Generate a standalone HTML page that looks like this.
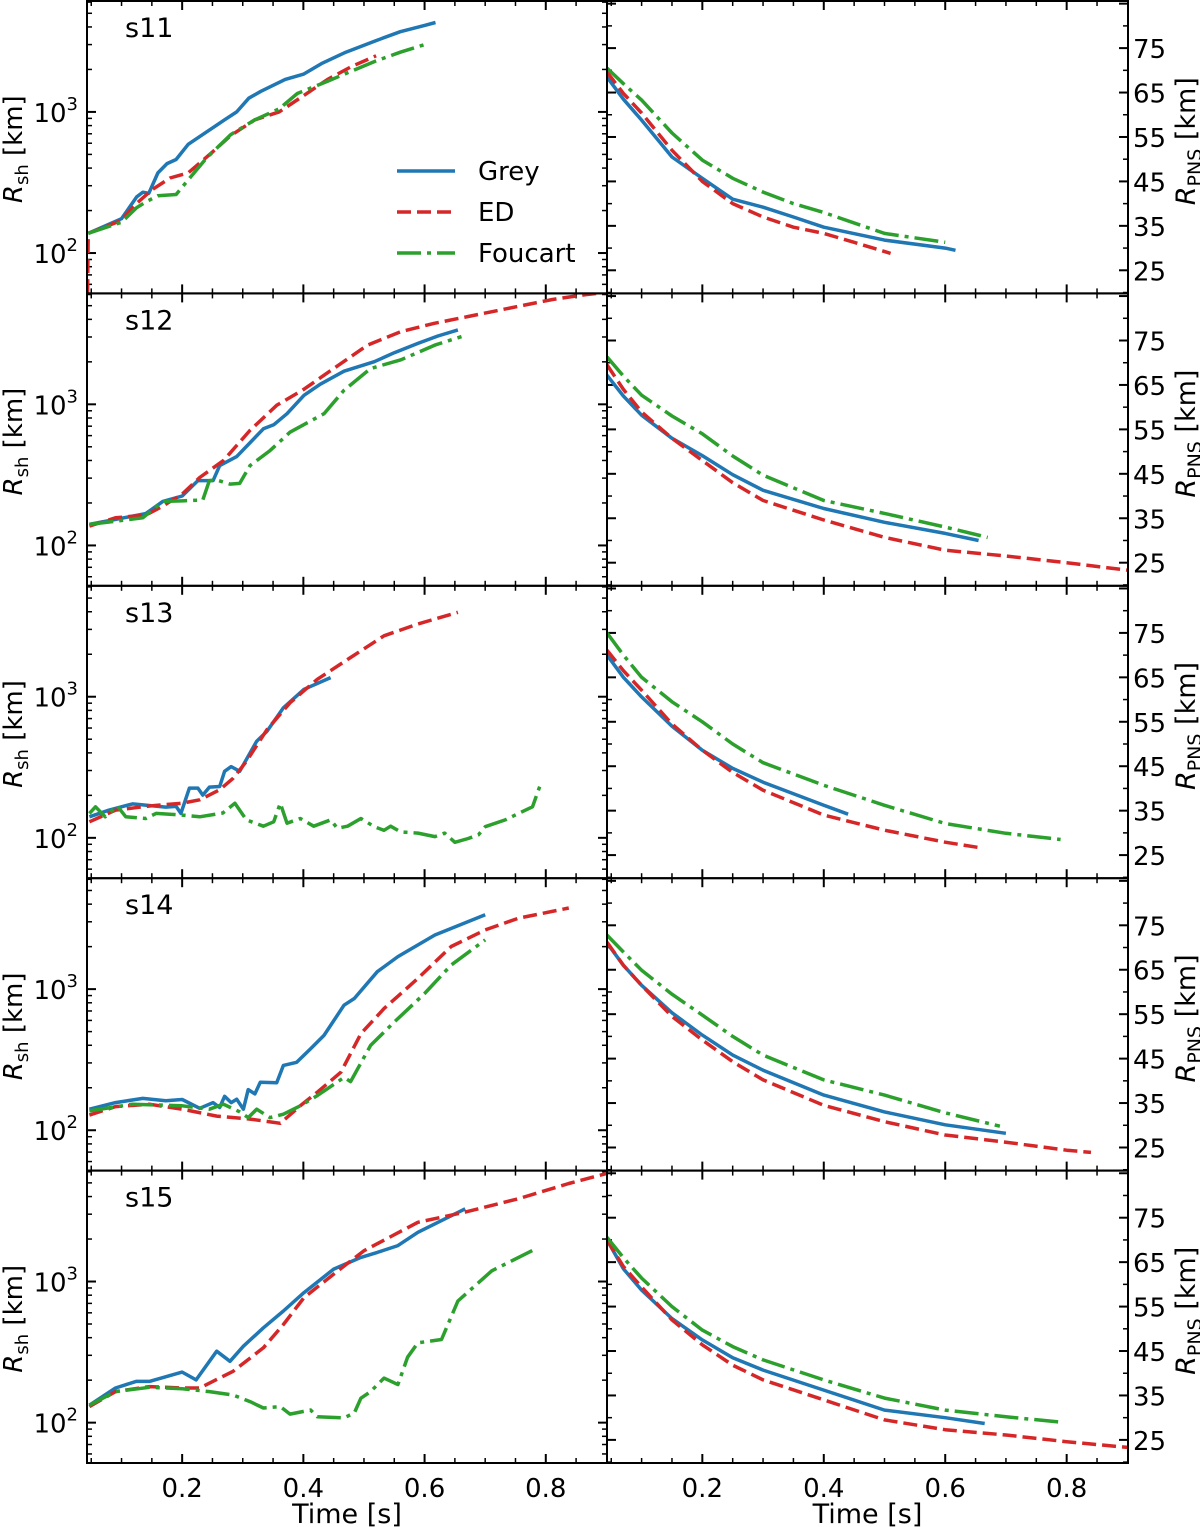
<!DOCTYPE html>
<html><head><meta charset="utf-8">
<style>
html,body{margin:0;padding:0;background:#fff;}
svg{display:block;font-family:"DejaVu Sans","Liberation Sans",sans-serif;}
</style></head>
<body>
<svg id="fig" width="1200" height="1527" viewBox="0 0 1200 1527" xmlns="http://www.w3.org/2000/svg"></svg>
<script>
// ---- data ----
const models = ["s11","s12","s13","s14","s15"];
const seriesNames = ["Grey","ED","Foucart"];
const xTicks = [0.2,0.4,0.6,0.8];
const xTickLabels = ["0.2","0.4","0.6","0.8"];
const rpnsTicks = [25,35,45,55,65,75];

// shock radius [t, Rsh] per model
const shGrey = [
 [[.045,138],[.10,175],[.125,250],[.135,270],[.145,265],[.16,370],[.175,430],[.19,460],[.21,590],[.24,720],[.27,880],[.29,1000],[.31,1250],[.33,1400],[.37,1700],[.40,1850],[.43,2200],[.47,2650],[.52,3200],[.56,3700],[.60,4100],[.618,4300]],
 [[.047,141],[.09,153],[.14,168],[.168,205],[.2,224],[.226,288],[.251,288],[.262,368],[.29,426],[.334,671],[.351,716],[.373,858],[.401,1159],[.428,1388],[.467,1718],[.517,2003],[.55,2321],[.589,2702],[.622,3050],[.655,3366]],
 [[.047,141],[.079,157],[.118,174],[.173,165],[.19,167],[.198,149],[.212,225],[.226,225],[.234,201],[.245,229],[.262,231],[.27,296],[.281,320],[.295,296],[.323,484],[.34,569],[.367,835],[.401,1128],[.445,1366]],
 [[.047,141],[.09,157],[.135,168],[.173,162],[.2,165],[.229,143],[.251,157],[.262,145],[.27,174],[.281,157],[.29,166],[.301,141],[.309,194],[.32,181],[.329,219],[.356,217],[.367,288],[.389,303],[.412,378],[.434,470],[.467,769],[.484,858],[.522,1329],[.556,1700],[.617,2420],[.7,3366]],
 [[.047,133],[.09,176],[.124,196],[.146,196],[.2,228],[.223,201],[.257,321],[.279,272],[.301,348],[.334,470],[.367,618],[.401,835],[.45,1224],[.495,1483],[.522,1609],[.556,1796],[.589,2234],[.667,3276]]
];
const shED = [
 [[.044,52],[.045,138],[.10,170],[.12,215],[.15,280],[.18,340],[.21,370],[.25,520],[.28,680],[.32,880],[.36,1000],[.40,1300],[.44,1700],[.48,2100],[.52,2500]],
 [[.047,137],[.09,157],[.14,164],[.168,190],[.2,231],[.229,303],[.268,399],[.312,653],[.356,984],[.401,1279],[.45,1795],[.506,2630],[.561,3276],[.617,3759],[.672,4194],[.755,4948],[.81,5520],[.866,5990],[.9,6200]],
 [[.047,130],[.09,157],[.146,168],[.2,176],[.229,186],[.262,219],[.284,264],[.306,348],[.34,585],[.378,906],[.423,1329],[.478,1896],[.533,2702],[.589,3276],[.655,3967]],
 [[.047,128],[.09,147],[.146,153],[.2,141],[.257,126],[.312,120],[.362,112],[.395,149],[.423,186],[.462,258],[.495,483],[.533,728],[.589,1191],[.644,2003],[.7,2630],[.755,3183],[.838,3759]],
 [[.047,130],[.09,166],[.146,180],[.2,176],[.229,176],[.284,231],[.334,339],[.367,496],[.401,769],[.45,1128],[.5,1653],[.589,2630],[.667,3105],[.755,3860],[.838,4948],[.9,5823]]
];
const shFou = [
 [[.045,138],[.10,165],[.125,210],[.14,230],[.16,255],[.19,260],[.21,330],[.24,470],[.28,690],[.32,880],[.36,1050],[.39,1350],[.44,1650],[.48,1950],[.52,2300],[.56,2650],[.60,3000]],
 [[.047,141],[.135,157],[.168,205],[.2,207],[.234,210],[.245,288],[.257,291],[.279,272],[.295,275],[.312,368],[.345,470],[.378,635],[.434,858],[.467,1258],[.511,1795],[.561,2068],[.617,2630],[.661,3017]],
 [[.047,149],[.057,166],[.073,141],[.093,168],[.107,141],[.14,137],[.157,149],[.2,145],[.229,141],[.267,150],[.287,176],[.306,134],[.334,121],[.351,130],[.362,176],[.373,127],[.395,137],[.417,121],[.445,134],[.456,117],[.473,121],[.495,137],[.517,120],[.533,113],[.544,121],[.561,110],[.589,108],[.617,102],[.633,108],[.65,93],[.672,99],[.689,105],[.7,120],[.733,134],[.755,149],[.778,166],[.792,244]],
 [[.047,137],[.118,153],[.2,149],[.245,141],[.268,153],[.295,135],[.309,123],[.323,141],[.345,123],[.367,130],[.395,149],[.423,176],[.467,237],[.478,221],[.511,399],[.55,585],[.6,931],[.644,1483],[.7,2234]],
 [[.047,133],[.09,166],[.146,178],[.2,174],[.245,166],[.284,157],[.312,141],[.334,127],[.362,130],[.378,115],[.412,123],[.423,110],[.467,108],[.484,117],[.495,149],[.511,166],[.533,207],[.556,186],[.572,291],[.589,368],[.628,388],[.655,728],[.711,1191],[.783,1700]]
];
// PNS radius [t, R] per model
const pnsGrey = [
 [[.043,68.5],[.07,63.5],[.1,58.8],[.15,50.5],[.2,45.7],[.25,41],[.3,39.2],[.35,37],[.4,34.7],[.5,31.8],[.6,30],[.617,29.5]],
 [[.043,67.2],[.07,62.5],[.1,58.2],[.15,53],[.2,49.1],[.25,44.8],[.3,41.3],[.4,37.2],[.5,34.1],[.6,31.6],[.655,30]],
 [[.043,70],[.07,65],[.1,60.6],[.15,54],[.2,48.6],[.25,44.5],[.3,41.4],[.4,36.2],[.44,34.2]],
 [[.043,71],[.07,66],[.1,61.5],[.15,55.3],[.2,50.3],[.25,45.8],[.3,42.4],[.4,36.8],[.5,33],[.6,30.1],[.7,28.2]],
 [[.043,70],[.07,63.5],[.1,58.7],[.15,52.3],[.2,47.5],[.25,43.5],[.3,40.7],[.4,36.2],[.5,31.7],[.6,30],[.665,28.7]]
];
const pnsED = [
 [[.043,69.6],[.07,64.8],[.1,60.4],[.15,52],[.2,45],[.25,40],[.3,37],[.35,34.7],[.4,33.3],[.45,31.3],[.51,28.8]],
 [[.043,69.5],[.07,64],[.1,58.9],[.15,53],[.2,48],[.25,43],[.3,39],[.4,34.6],[.5,30.7],[.6,27.8],[.7,26.5],[.8,25],[.9,23.3]],
 [[.043,71.1],[.07,66.5],[.1,62.1],[.15,54.5],[.2,48.6],[.25,43.6],[.3,39.6],[.4,34],[.5,30.6],[.6,27.9],[.655,26.7]],
 [[.043,71.2],[.07,66],[.1,61.5],[.15,54.5],[.2,49.2],[.25,44.3],[.3,40.2],[.4,34.5],[.5,30.8],[.6,27.8],[.7,26.2],[.8,24.4],[.84,23.9]],
 [[.043,70],[.07,64],[.1,59.4],[.15,52],[.2,46.4],[.25,41.8],[.3,38.5],[.4,34],[.5,29.5],[.6,27.3],[.7,26.1],[.8,24.6],[.9,23.3]]
];
const pnsFou = [
 [[.043,70.5],[.07,67],[.1,63.3],[.15,55.9],[.2,49.8],[.25,45.7],[.3,42.6],[.35,40],[.4,38],[.5,33.3],[.6,31.3]],
 [[.043,71.3],[.07,67],[.1,62.7],[.15,58],[.2,54],[.25,49],[.3,44.7],[.4,39],[.5,36.1],[.6,33],[.67,30.7]],
 [[.043,75],[.07,70],[.1,65],[.15,59.5],[.2,55],[.25,50],[.3,45.8],[.4,40.7],[.5,36.2],[.6,32.1],[.7,29.9],[.79,28.5]],
 [[.043,72.8],[.07,69],[.1,64.9],[.15,59.5],[.2,54.8],[.25,50],[.3,45.8],[.4,40.2],[.5,36.8],[.6,32.8],[.69,29.8]],
 [[.043,70.6],[.07,66],[.1,61.4],[.15,55],[.2,49.7],[.25,46],[.3,43],[.4,38.5],[.5,34.4],[.6,31.7],[.7,30.2],[.79,29]]
];

// ---- layout ----
const NS="http://www.w3.org/2000/svg";
const svg=document.getElementById('fig');
const L0=87, L1=607, R0=607, R1=1128, TOP=1, PH=292.4;
const T0=0.043, T1=0.901;
const LOGMIN=1.714, LOGMAX=3.786;
const PMIN=19.8, PMAX=85.6;
const colors=["#1f77b4","#d62728","#2ca02c"];
const dashes=["", "14,6", "24,6,4,6"];
function xS(t,x0,x1){return x0+(t-T0)/(T1-T0)*(x1-x0);}
function yLog(v,top){return top+PH-(Math.log10(v)-LOGMIN)/(LOGMAX-LOGMIN)*PH;}
function yLin(v,top){return top+PH-(v-PMIN)/(PMAX-PMIN)*PH;}
function mk(tag,attrs,parent){const e=document.createElementNS(NS,tag);for(const k in attrs)e.setAttribute(k,attrs[k]);(parent||svg).appendChild(e);return e;}

const defs=mk('defs',{});
for(let r=0;r<5;r++){
  const top=TOP+r*PH;
  const c1=mk('clipPath',{id:'cl'+r},defs); mk('rect',{x:L0,y:top,width:L1-L0,height:PH},c1);
  const c2=mk('clipPath',{id:'cr'+r},defs); mk('rect',{x:R0,y:top,width:R1-R0,height:PH},c2);
}

function drawXTicks(x0,x1,top,g){
  for(let t=0.05;t<0.9;t+=0.05){
    const tt=Math.round(t*100)/100; const x=xS(tt,x0,x1);
    const major=Math.abs(tt*10-Math.round(tt*10))<1e-6 && Math.round(tt*10)%2===0;
    const len=major?9:5;
    mk('line',{x1:x,y1:top+PH,x2:x,y2:top+PH-len,stroke:'#000','stroke-width':major?2:1.5},g);
    mk('line',{x1:x,y1:top,x2:x,y2:top+len,stroke:'#000','stroke-width':major?2:1.5},g);
  }
}

for(let r=0;r<5;r++){
  const top=TOP+r*PH;
  const gl=mk('g',{});
  
  
  drawXTicks(L0,L1,top,gl);
  for(let d=1;d<=3;d++){
    for(let m=1;m<=9;m++){
      const v=m*Math.pow(10,d); const lg=Math.log10(v);
      if(lg<LOGMIN||lg>LOGMAX) continue;
      const y=yLog(v,top); const len=m===1?9:5;
      mk('line',{x1:L0,y1:y,x2:L0+len,y2:y,stroke:'#000','stroke-width':m===1?2:1.5},gl);
      mk('line',{x1:L1,y1:y,x2:L1-len,y2:y,stroke:'#000','stroke-width':m===1?2:1.5},gl);
      if(m===1){
        const tx=mk('text',{x:78,y:y+10,'text-anchor':'end','font-size':26,fill:'#000'},gl);
        
        
        tx.appendChild(document.createTextNode('10'));
        const sp=mk('tspan',{dy:-12,'font-size':18},tx); sp.textContent=String(d);
      }
    }
  }
  const sets=[shGrey[r],shED[r],shFou[r]];
  sets.forEach((pts,i)=>{
    const p=mk('polyline',{points:pts.map(q=>xS(q[0],L0,L1).toFixed(1)+','+yLog(q[1],top).toFixed(1)).join(' '),fill:'none',stroke:colors[i],'stroke-width':3.5,'stroke-dasharray':dashes[i],'stroke-linejoin':'round','clip-path':'url(#cl'+r+')'},gl);
    
    
  });
  const lab=mk('text',{x:125,y:top+36,'font-size':27,fill:'#000'},gl);
  
  
  lab.textContent=models[r];
  const yl=mk('text',{transform:`translate(22,${top+PH/2+2}) rotate(-90)`,'text-anchor':'middle','font-size':26,fill:'#000'},gl);
  
  
  const a=mk('tspan',{'font-style':'italic'},yl); a.textContent='R';
  const b=mk('tspan',{dy:6,'font-size':18},yl); b.textContent='sh';
  const c=mk('tspan',{dy:-6},yl); c.textContent=' [km]';

  const gr=mk('g',{});
  
  
  drawXTicks(R0,R1,top,gr);
  for(let v=20;v<=85;v+=5){
    const y=yLin(v,top); const major=(v%10===5);
    const len=major?9:5;
    mk('line',{x1:R1,y1:y,x2:R1-len,y2:y,stroke:'#000','stroke-width':major?2:1.5},gr);
    mk('line',{x1:R0,y1:y,x2:R0+len,y2:y,stroke:'#000','stroke-width':major?2:1.5},gr);
  }
  rpnsTicks.forEach(v=>{
    const y=yLin(v,top);
    const tx=mk('text',{x:1133,y:y+10,'font-size':26,fill:'#000'},gr);
    
    
    tx.textContent=String(v);
  });
  const psets=[pnsGrey[r],pnsED[r],pnsFou[r]];
  psets.forEach((pts,i)=>{
    const p=mk('polyline',{points:pts.map(q=>xS(q[0],R0,R1).toFixed(1)+','+yLin(q[1],top).toFixed(1)).join(' '),fill:'none',stroke:colors[i],'stroke-width':3.5,'stroke-dasharray':dashes[i],'stroke-linejoin':'round','clip-path':'url(#cr'+r+')'},gr);
    
    
  });
  const yr=mk('text',{transform:`translate(1195,${top+PH/2-6}) rotate(-90)`,'text-anchor':'middle','font-size':27,fill:'#000'},gr);
  
  
  const a2=mk('tspan',{'font-style':'italic'},yr); a2.textContent='R';
  const b2=mk('tspan',{dy:6,'font-size':19},yr); b2.textContent='PNS';
  const c2=mk('tspan',{dy:-6},yr); c2.textContent=' [km]';

  const f1=mk('rect',{x:L0,y:top,width:L1-L0,height:PH,fill:'none',stroke:'#000','stroke-width':2});
  
  
  const f2=mk('rect',{x:R0,y:top,width:R1-R0,height:PH,fill:'none',stroke:'#000','stroke-width':2});
  
  
}

[[L0,L1],[R0,R1]].forEach((ext,k)=>{
  xTicks.forEach((t,i)=>{
    const tx=mk('text',{x:xS(t,ext[0],ext[1]),y:1497,'text-anchor':'middle','font-size':26,fill:'#000'});
    
    
    tx.textContent=xTickLabels[i];
  });
  const tt=mk('text',{x:(ext[0]+ext[1])/2,y:1523,'text-anchor':'middle','font-size':27,fill:'#000'});
  
  
  tt.textContent='Time [s]';
});

const lg=mk('g',{});


seriesNames.forEach((n,i)=>{
  const y=171+i*41;
  const ln=mk('line',{x1:397,y1:y,x2:455,y2:y,stroke:colors[i],'stroke-width':3.5,'stroke-dasharray':dashes[i]},lg);
  
  
  const tx=mk('text',{x:478,y:y+9,'font-size':26,fill:'#000'},lg);
  
  
  tx.textContent=n;
});
</script>
</body></html>
